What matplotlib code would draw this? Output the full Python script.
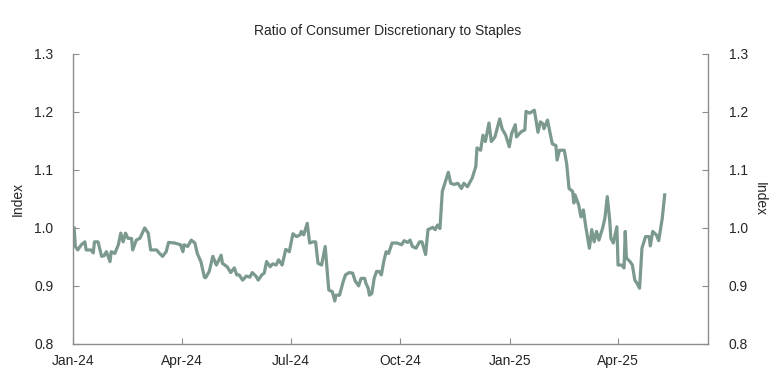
import matplotlib
matplotlib.use('Agg')
import matplotlib.pyplot as plt
import matplotlib.dates as mdates
import pandas as pd

plt.rcParams['font.family'] = ['Liberation Sans', 'DejaVu Sans']

# значения
dates = [
    '2024-01-02', '2024-01-03', '2024-01-05', '2024-01-08', '2024-01-11', '2024-01-12',
    '2024-01-16', '2024-01-18', '2024-01-19', '2024-01-22', '2024-01-25', '2024-01-27',
    '2024-01-29', '2024-02-01', '2024-02-02', '2024-02-05', '2024-02-08', '2024-02-10',
    '2024-02-12', '2024-02-14', '2024-02-16', '2024-02-19', '2024-02-20', '2024-02-23',
    '2024-02-26', '2024-03-01', '2024-03-04', '2024-03-06', '2024-03-11', '2024-03-13',
    '2024-03-16', '2024-03-19', '2024-03-21', '2024-03-26', '2024-03-31', '2024-04-02',
    '2024-04-03', '2024-04-06', '2024-04-09', '2024-04-12', '2024-04-14', '2024-04-17',
    '2024-04-20', '2024-04-21', '2024-04-24', '2024-04-27', '2024-04-30', '2024-05-04',
    '2024-05-05', '2024-05-09', '2024-05-12', '2024-05-15', '2024-05-17', '2024-05-19',
    '2024-05-22', '2024-05-25', '2024-05-28', '2024-05-30', '2024-06-02', '2024-06-04',
    '2024-06-07', '2024-06-09', '2024-06-11', '2024-06-14', '2024-06-16', '2024-06-19',
    '2024-06-21', '2024-06-24', '2024-06-27', '2024-06-30', '2024-07-03', '2024-07-06',
    '2024-07-09', '2024-07-10', '2024-07-12', '2024-07-15', '2024-07-17', '2024-07-20',
    '2024-07-22', '2024-07-24', '2024-07-27', '2024-07-30', '2024-08-02', '2024-08-05',
    '2024-08-07', '2024-08-08', '2024-08-11', '2024-08-14', '2024-08-16', '2024-08-19',
    '2024-08-22', '2024-08-24', '2024-08-27', '2024-08-29', '2024-09-01', '2024-09-02',
    '2024-09-04', '2024-09-05', '2024-09-07', '2024-09-09', '2024-09-11', '2024-09-13',
    '2024-09-15', '2024-09-17', '2024-09-19', '2024-09-21', '2024-09-24', '2024-09-28',
    '2024-10-02', '2024-10-04', '2024-10-07', '2024-10-09', '2024-10-11', '2024-10-14',
    '2024-10-17', '2024-10-19', '2024-10-22', '2024-10-24', '2024-10-28', '2024-10-30',
    '2024-11-01', '2024-11-03', '2024-11-05', '2024-11-08', '2024-11-10', '2024-11-12',
    '2024-11-15', '2024-11-18', '2024-11-21', '2024-11-23', '2024-11-26', '2024-11-30',
    '2024-12-03', '2024-12-04', '2024-12-07', '2024-12-09', '2024-12-11', '2024-12-14',
    '2024-12-16', '2024-12-19', '2024-12-23', '2024-12-25', '2024-12-28', '2024-12-31',
    '2025-01-02', '2025-01-05', '2025-01-06', '2025-01-10', '2025-01-13', '2025-01-14',
    '2025-01-17', '2025-01-21', '2025-01-24', '2025-01-26', '2025-01-28', '2025-01-29',
    '2025-02-01', '2025-02-03', '2025-02-05', '2025-02-08', '2025-02-09', '2025-02-11',
    '2025-02-15', '2025-02-17', '2025-02-19', '2025-02-22', '2025-02-23', '2025-02-24',
    '2025-02-27', '2025-03-01', '2025-03-03', '2025-03-05', '2025-03-08', '2025-03-10',
    '2025-03-12', '2025-03-14', '2025-03-16', '2025-03-19', '2025-03-21', '2025-03-23',
    '2025-03-25', '2025-03-26', '2025-03-28', '2025-03-31', '2025-04-01', '2025-04-04',
    '2025-04-06', '2025-04-07', '2025-04-08', '2025-04-11', '2025-04-13', '2025-04-15',
    '2025-04-17', '2025-04-19', '2025-04-21', '2025-04-24', '2025-04-27', '2025-04-28',
    '2025-04-30', '2025-05-03', '2025-05-05', '2025-05-08', '2025-05-10',
]

ratio = [
    1.000, 0.968, 0.962, 0.971, 0.976, 0.962,
    0.962, 0.957, 0.976, 0.976, 0.951, 0.952,
    0.959, 0.942, 0.959, 0.956, 0.971, 0.991,
    0.976, 0.991, 0.982, 0.982, 0.962, 0.979,
    0.982, 1.000, 0.991, 0.962, 0.962, 0.957,
    0.951, 0.959, 0.975, 0.974, 0.971, 0.959,
    0.971, 0.968, 0.979, 0.974, 0.956, 0.942,
    0.915, 0.914, 0.925, 0.951, 0.936, 0.953,
    0.939, 0.933, 0.923, 0.931, 0.919, 0.919,
    0.910, 0.917, 0.915, 0.923, 0.917, 0.910,
    0.919, 0.922, 0.942, 0.933, 0.938, 0.936,
    0.945, 0.936, 0.963, 0.959, 0.990, 0.985,
    0.988, 0.994, 0.988, 1.008, 0.974, 0.976,
    0.976, 0.939, 0.936, 0.968, 0.893, 0.890,
    0.874, 0.884, 0.884, 0.907, 0.919, 0.923,
    0.922, 0.909, 0.900, 0.913, 0.913, 0.905,
    0.896, 0.884, 0.887, 0.913, 0.925, 0.925,
    0.919, 0.942, 0.959, 0.956, 0.974, 0.974,
    0.971, 0.978, 0.975, 0.979, 0.968, 0.965,
    0.976, 0.976, 0.954, 0.997, 1.001, 0.997,
    1.005, 0.999, 1.063, 1.083, 1.096, 1.077,
    1.075, 1.077, 1.068, 1.077, 1.071, 1.086,
    1.106, 1.138, 1.134, 1.160, 1.149, 1.181,
    1.149, 1.157, 1.188, 1.171, 1.160, 1.140,
    1.163, 1.178, 1.157, 1.166, 1.169, 1.201,
    1.198, 1.203, 1.165, 1.183, 1.180, 1.171,
    1.186, 1.165, 1.145, 1.142, 1.117, 1.134,
    1.134, 1.111, 1.068, 1.063, 1.043, 1.057,
    1.040, 1.019, 1.031, 1.002, 0.965, 0.997,
    0.976, 0.994, 0.979, 0.999, 1.017, 1.054,
    1.014, 0.982, 0.974, 1.002, 0.936, 0.936,
    0.931, 0.994, 0.948, 0.942, 0.936, 0.910,
    0.904, 0.896, 0.965, 0.985, 0.985, 0.969,
    0.994, 0.988, 0.978, 1.017, 1.057,
]

x_ticks = ['2024-01-01', '2024-04-01', '2024-07-01', '2024-10-01', '2025-01-01', '2025-04-01']
y_ticks = [0.8, 0.9, 1.0, 1.1, 1.2, 1.3]

line_color = '#7b998d'
axis_color = '#8c8c8c'
text_color = '#262626'

fig = plt.figure(figsize=(7.76, 3.75), dpi=100)
ax = fig.add_axes([0.094, 0.083, 0.818, 0.773])
ax.plot(pd.to_datetime(dates), ratio, color=line_color, lw=2.3, solid_joinstyle='round')

ax.set_xlim(pd.Timestamp('2024-01-01'), pd.Timestamp('2025-06-15'))
ax.set_ylim(0.8, 1.3)
ax.set_xticks(pd.to_datetime(x_ticks))
ax.xaxis.set_major_formatter(mdates.DateFormatter('%b-%y'))
ax.set_yticks(y_ticks)
ax.set_yticklabels(['%.1f' % v for v in y_ticks])

# правая ось - то же самое
ax2 = ax.twinx()
ax2.set_ylim(ax.get_ylim())
ax2.set_yticks(y_ticks)
ax2.set_yticklabels(['%.1f' % v for v in y_ticks])

for a in (ax, ax2):
    a.spines['top'].set_visible(False)
    for s in ('left', 'right', 'bottom'):
        a.spines[s].set_color(axis_color)
        a.spines[s].set_linewidth(1.0)
ax.spines['right'].set_visible(False)
ax2.spines['left'].set_visible(False)
ax2.spines['bottom'].set_visible(False)

ax.tick_params(axis='x', direction='in', length=4, width=0.8, color=axis_color,
               labelsize=10, labelcolor=text_color, pad=7)
ax.tick_params(axis='y', direction='in', length=4, width=0.8, color=axis_color,
               labelsize=10, labelcolor=text_color, pad=14)
ax2.tick_params(axis='y', direction='in', length=4, width=0.8, color=axis_color,
                labelsize=10, labelcolor=text_color, pad=15)

ax.set_ylabel('Index', fontsize=10, color=text_color, labelpad=7)
ax2.set_ylabel('Index', fontsize=10, color=text_color, rotation=270, labelpad=14)

fig.text(0.5, 0.918, 'Ratio of Consumer Discretionary to Staples', ha='center', va='center',
         fontsize=10, color=text_color)

fig.savefig('out.png', dpi=100)
